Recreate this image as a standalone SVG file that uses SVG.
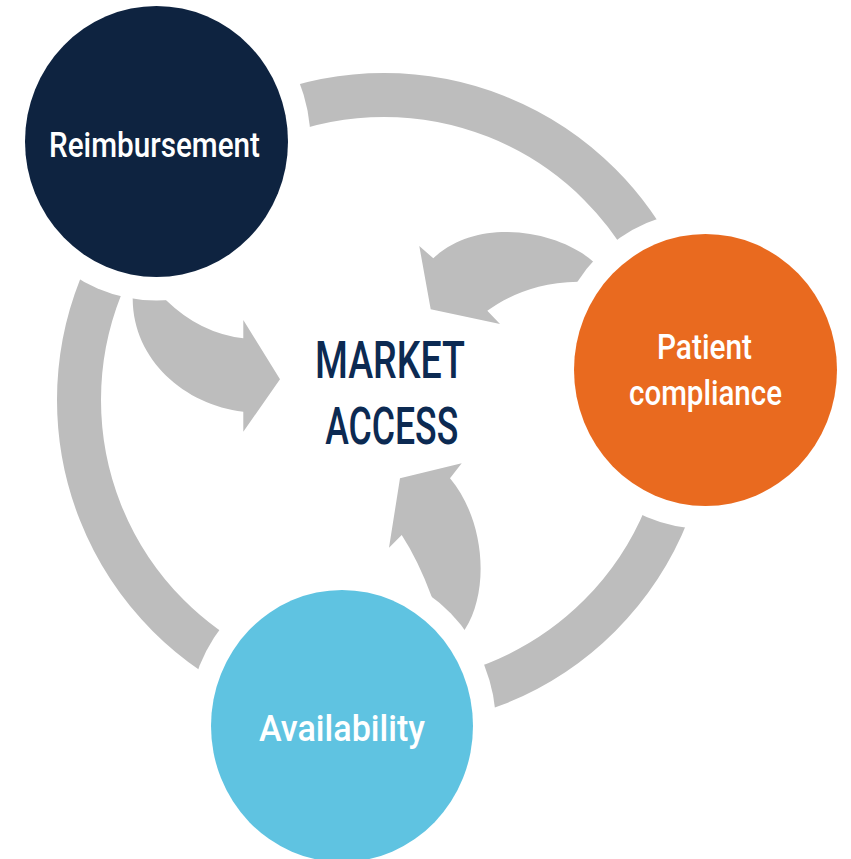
<svg xmlns="http://www.w3.org/2000/svg" width="851" height="859" viewBox="0 0 851 859">
<style>
.bg{fill:#ffffff}
.ring{fill:none;stroke:#bdbdbd;stroke-width:44}
.arrow{fill:#bdbdbd}
.halo{fill:#ffffff}
.lbl{font-family:Roboto,"Liberation Sans",Arial,sans-serif;font-weight:500;fill:#ffffff;text-anchor:middle}
.center{font-family:Roboto,"Liberation Sans",Arial,sans-serif;font-weight:500;fill:#0c2a52;text-anchor:middle;font-size:52px}
</style>
<rect class="bg" x="0" y="0" width="851" height="859"/>
<g id="connectors">
<circle class="ring" cx="384" cy="400" r="305"/>
<path id="arrow-reimbursement" class="arrow" d="M132,290 L160,294 L166.7,300.7 Q200,333 243.3,338.3 L243.3,320 L280,379.3 L243.3,431.7 L243.3,411.7 C185,405 133,360 132.7,299 Z"/>
<path id="arrow-patient" class="arrow" d="M600,267.7 L593.3,261.7 C560,232 480,215 433.3,258.3 L419.3,246 L430.7,309.3 L500,324 L487.3,310.7 C505,298 535,282 578.3,281.7 L588,281 Z"/>
<path id="arrow-availability" class="arrow" d="M459,638.7 L465,629.3 C490,590 485,520 450,478.3 L461.7,463.3 L400,478.3 L389,547.7 L401.7,535 Q418,560 431.7,596.7 L436,608 Z"/>
</g>
<g id="node-reimbursement">
<ellipse class="halo" cx="156.5" cy="141.5" rx="154" ry="159"/>
<ellipse cx="156.5" cy="141.5" rx="131.5" ry="135.5" fill="#0e2340"/>
<text class="lbl" x="154.5" y="156.5" font-size="35" textLength="211" lengthAdjust="spacingAndGlyphs">Reimbursement</text>
</g>
<g id="node-patient">
<ellipse class="halo" cx="705.5" cy="370" rx="154" ry="159"/>
<ellipse cx="705.5" cy="370" rx="131.5" ry="136" fill="#e96a1f"/>
<text class="lbl" x="704.5" y="359.3" font-size="35" textLength="95" lengthAdjust="spacingAndGlyphs">Patient</text>
<text class="lbl" x="705.5" y="405" font-size="35" textLength="153" lengthAdjust="spacingAndGlyphs">compliance</text>
</g>
<g id="node-availability">
<ellipse class="halo" cx="342" cy="726" rx="154" ry="159"/>
<ellipse cx="342" cy="726" rx="131" ry="136" fill="#5fc3e1"/>
<text class="lbl" x="342" y="741" font-size="36" textLength="166" lengthAdjust="spacingAndGlyphs">Availability</text>
</g>
<g id="node-market-access">
<text class="center" x="390" y="378.3" textLength="150" lengthAdjust="spacingAndGlyphs">MARKET</text>
<text class="center" x="391.7" y="444" textLength="133" lengthAdjust="spacingAndGlyphs">ACCESS</text>
</g>
</svg>
